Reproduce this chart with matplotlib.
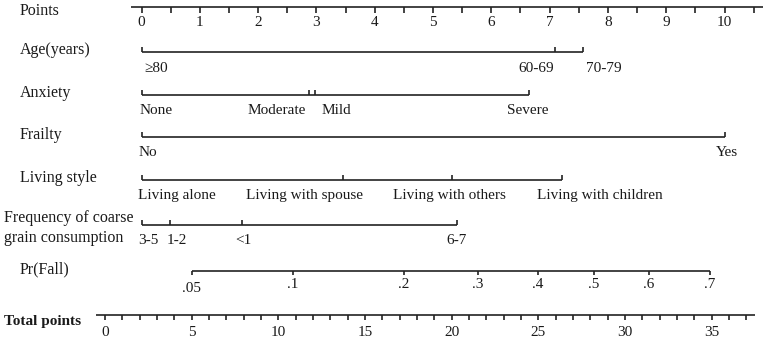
import matplotlib
import matplotlib.pyplot as plt
from matplotlib.transforms import blended_transform_factory

matplotlib.use('Agg')

# ---- data ----
points_ticks = [0, 1, 2, 3, 4, 5, 6, 7, 8, 9, 10]

age_labels = ['≥80', '60-69', '70-79']
age_points = [0, 7.09, 7.58]

anxiety_labels = ['None', 'Moderate', 'Mild', 'Severe']
anxiety_points = [0, 2.88, 2.98, 6.65]

frailty_labels = ['No', 'Yes']
frailty_points = [0, 10.0]

living_labels = ['Living alone', 'Living with spouse', 'Living with others', 'Living with children']
living_points = [0, 3.46, 5.32, 7.22]

grain_labels = ['3-5', '1-2', '<1', '6-7']
grain_points = [0, 0.49, 1.72, 5.42]

pr_labels = ['.05', '.1', '.2', '.3', '.4', '.5', '.6', '.7']
pr_total_points = [5.02, 10.85, 17.25, 21.52, 24.99, 28.2, 31.4, 34.9]

total_ticks = [0, 5, 10, 15, 20, 25, 30, 35]

# ---- layout (pixel rows, label centres in point units) ----
W, H = 767, 340
PX_PER_POINT, POINT0_PX = 58.3, 141.5
PX_PER_TOTAL, TOTAL0_PX = 17.33, 105.0

rows = [
    # name, y of line, labels, positions, label x centres
    ('Age(years)', 52, age_labels, age_points, [0.25, 6.77, 7.93]),
    ('Anxiety', 95, anxiety_labels, anxiety_points, [0.25, 2.32, 3.35, 6.63]),
    ('Frailty', 137, frailty_labels, frailty_points, [0.11, 10.04]),
    ('Living style', 180, living_labels, living_points, [0.61, 2.79, 5.29, 7.86]),
    ('Frequency of coarse\ngrain consumption', 225, grain_labels, grain_points, [0.11, 0.61, 1.74, 5.41]),
]

plt.rcParams['font.family'] = ['Liberation Serif', 'DejaVu Serif']
LINE_KW = dict(color='#222222', lw=1.2, solid_capstyle='butt')
FS = 11
TXT = '#1a1a1a'

fig = plt.figure(figsize=(W / 100, H / 100), dpi=100)
# one axes in "points" units, one in "total points" units, both over the whole figure
ax = fig.add_axes([0, 0, 1, 1])
ax.set_xlim(-POINT0_PX / PX_PER_POINT, (W - POINT0_PX) / PX_PER_POINT)
ax.set_ylim(H, 0)
ax.axis('off')
ax2 = fig.add_axes([0, 0, 1, 1], sharey=ax)
ax2.set_xlim(-TOTAL0_PX / PX_PER_TOTAL, (W - TOTAL0_PX) / PX_PER_TOTAL)
ax2.patch.set_alpha(0)
ax2.axis('off')

name_trans = blended_transform_factory(ax.transAxes, ax.transData)


def row_name(text, y, x_px=20, size=11.5, **kw):
    # left-hand variable names
    ax.text(x_px / W, y, text, transform=name_trans, ha='left', va='center',
            fontsize=size, color=TXT, linespacing=1.35, **kw)


# Points scale
y = 7
ax.plot([-0.18, 10.66], [y, y], **LINE_KW)
for t in [k / 2 for k in range(0, 22)]:
    ax.plot([t, t], [y, y + 6], **LINE_KW)
for t in points_ticks:
    ax.text(t, y + 15, str(t), ha='center', va='center', fontsize=FS, color=TXT)
row_name('Points', 11)

# variable rows
for name, y, labels, pos, lab_x in rows:
    ax.plot([min(pos), max(pos)], [y, y], **LINE_KW)
    for p in pos:
        ax.plot([p, p], [y, y - 5], **LINE_KW)
    for lab, lx in zip(labels, lab_x):
        ax.text(lx, y + 16, lab, ha='center', va='center', fontsize=FS, color=TXT)
    if '\n' in name:
        row_name(name, y + 3, x_px=4)
    else:
        row_name(name, y - 2)

# Pr(Fall)
y = 271
ax2.plot([pr_total_points[0], pr_total_points[-1]], [y, y], **LINE_KW)
for t, lab in zip(pr_total_points, pr_labels):
    ax2.plot([t, t], [y, y + 4], **LINE_KW)
    dy = 17 if lab == '.05' else 14
    ax2.text(t, y + dy, lab, ha='center', va='center', fontsize=FS, color=TXT)
row_name('Pr(Fall)', y - 2)

# Total points
y = 315
ax2.plot([-0.52, 37.5], [y, y], **LINE_KW)
for t in range(0, 38):
    ax2.plot([t, t], [y, y + 5], **LINE_KW)
for t in total_ticks:
    ax2.text(t, y + 17, str(t), ha='center', va='center', fontsize=FS, color=TXT)
row_name('Total points', 322, x_px=4, size=11, fontweight='bold')

fig.savefig('out.png', dpi=100, facecolor='white')
